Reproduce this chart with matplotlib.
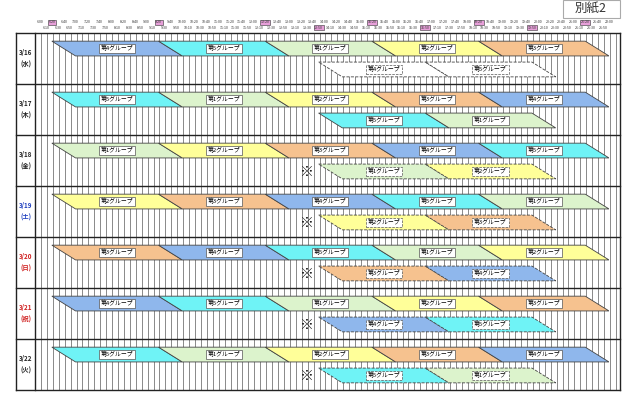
import matplotlib
matplotlib.use("Agg")
import matplotlib.pyplot as plt
from matplotlib.patches import Polygon, Rectangle
import numpy as np

plt.rcParams["font.family"] = ["Noto Sans CJK JP", "DejaVu Sans"]

dates = ["3/16\n(水)", "3/17\n(木)", "3/18\n(金)", "3/19\n(土)", "3/20\n(日)", "3/21\n(祝)", "3/22\n(火)"]
date_colors = ["#222222", "#222222", "#222222", "#1f3fbf", "#d02020", "#d02020", "#222222"]
main_groups = [[4, 5, 1, 2, 3], [5, 1, 2, 3, 4], [1, 2, 3, 4, 5], [2, 3, 4, 5, 1],
               [3, 4, 5, 1, 2], [4, 5, 1, 2, 3], [5, 1, 2, 3, 4]]
sub_groups = [[4, 5], [5, 1], [1, 2], [2, 3], [3, 4], [4, 5], [5, 1]]
sub_style = ["dashed_empty", "solid", "dashed", "dashed", "dashed", "dashed", "dashed"]
main_starts = [6 + 20/60, 9 + 20/60, 12 + 20/60, 15 + 20/60, 18 + 20/60]
sub_starts = [13 + 50/60, 16 + 50/60]
block_len = 3.0
slant = 40/60
group_colors = {1: "#dcf3cc", 2: "#ffff99", 3: "#f6c28f", 4: "#8fb7ec", 5: "#6ff3f6"}

fig = plt.figure(figsize=(6.4, 4.0), dpi=100)
ax = fig.add_axes([40/640, 1 - 390/400, 569/640, 357/400])
ax.set_xlim(6, 22)
ax.set_ylim(7, 0)
ax.axis("off")

x_left, x_right = 5.325, 22.31
x_datecol = 5.86

for t in np.arange(5.86, 22.31, 1/6):
    ax.plot([t, t], [0, 7], color="#6a6a6a", lw=0.55, zorder=1, clip_on=False)
for r in range(8):
    ax.plot([x_left, x_right], [r, r], color="#222222", lw=1.0, zorder=5, clip_on=False)
for xv in [x_left, x_datecol, x_right]:
    ax.plot([xv, xv], [0, 7], color="#222222", lw=1.0, zorder=5, clip_on=False)
ax.add_patch(Rectangle((x_left, 0), x_datecol - x_left, 7, facecolor="white", edgecolor="none", zorder=2, clip_on=False))

def para(x0, r, y0, y1, g, ls, fill, lbl_dashed):
    pts = [(x0, r + y0), (x0 + block_len, r + y0), (x0 + block_len + slant, r + y1), (x0 + slant, r + y1)]
    fc = group_colors[g] if fill else "white"
    ax.add_patch(Polygon(pts, closed=True, facecolor=fc, edgecolor="#444444", lw=0.6, linestyle=ls, zorder=3))
    cx = x0 + (block_len + slant) / 2
    ax.text(cx, r + (y0 + y1) / 2, f"第{g}グループ", fontsize=4.2, ha="center", va="center", zorder=6,
            bbox=dict(boxstyle="square,pad=0.3", fc="white", ec="#555555", lw=0.5,
                      linestyle="--" if lbl_dashed else "-"))

for r in range(7):
    for s, g in zip(main_starts, main_groups[r]):
        para(s, r, 0.16, 0.45, g, "-", True, False)
    st = sub_style[r]
    for s, g in zip(sub_starts, sub_groups[r]):
        if st == "solid":
            para(s, r, 0.57, 0.86, g, "-", True, False)
        elif st == "dashed":
            para(s, r, 0.57, 0.86, g, "--", True, True)
        else:
            para(s, r, 0.57, 0.86, g, "--", False, True)
    if r >= 2:
        ax.text(13.5, r + 0.72, "※", fontsize=10, ha="center", va="center", zorder=6, fontweight="bold")
    ax.text((x_left + x_datecol) / 2, r + 0.5, dates[r], fontsize=4.5, ha="center", va="center",
            color=date_colors[r], fontweight="bold", zorder=6, linespacing=1.6, clip_on=False)

pinks_top = [6 + 20/60, 9 + 20/60, 12 + 20/60, 15 + 20/60, 18 + 20/60, 21 + 20/60]
pinks_bot = [13 + 50/60, 16 + 50/60, 19 + 50/60]
for i, t in enumerate(np.arange(6, 22.01, 1/6)):
    mins = int(round(t * 60))
    h, m = divmod(mins, 60)
    lab = f"{h}:{m:02d}"
    top = (m % 20 == 0)
    y = -0.21 if top else -0.1
    pink = any(abs(t - p) < 1e-6 for p in (pinks_top if top else pinks_bot))
    bb = dict(boxstyle="square,pad=0.15", fc="#e79fd9", ec="#333333", lw=0.4) if pink else None
    ax.text(t, y, lab, fontsize=2.6, ha="center", va="center", color="#333333", bbox=bb, clip_on=False)

fig.patches.append(Rectangle((563/640, 1 - 18/400), 57/640, 18/400, transform=fig.transFigure,
                             facecolor="white", edgecolor="#aaaaaa", lw=0.8))
fig.text(591/640, 1 - 8/400, "別紙2", fontsize=9, ha="center", va="center", color="#333333")

fig.savefig("out.png", dpi=100, facecolor="white")
